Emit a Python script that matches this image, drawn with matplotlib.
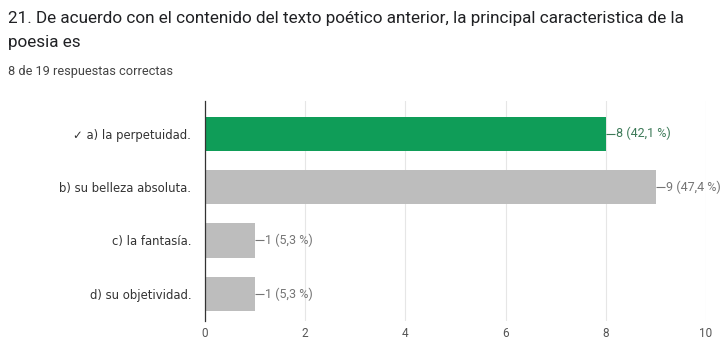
import matplotlib
matplotlib.use("Agg")
import matplotlib.pyplot as plt

plt.rcParams['font.family'] = ['Roboto', 'DejaVu Sans']

opciones = ['✓ a) la perpetuidad.', 'b) su belleza absoluta.', 'c) la fantasía.', 'd) su objetividad.']
respuestas = [8, 9, 1, 1]
porcentajes = ['42,1', '47,4', '5,3', '5,3']
correcta = [True, False, False, False]
ticks_x = [0, 2, 4, 6, 8, 10]

verde = '#0f9d58'
gris = '#bdbdbd'

fig = plt.figure(figsize=(7.27, 3.41), dpi=100)
ax = fig.add_axes([0.282, 0.06, 0.689, 0.645])

ypos = list(range(len(opciones)))
colores = [verde if c else gris for c in correcta]
ax.barh(ypos, respuestas, height=0.64, color=colores, zorder=2)

for y, v, p, c in zip(ypos, respuestas, porcentajes, correcta):
    col = '#3d7a58' if c else '#757575'
    ax.hlines(y, v, v + 0.18, color=col, lw=0.8, zorder=3)
    ax.text(v + 0.2, y, f'{v} ({p} %)', va='center', ha='left', fontsize=9, color=col)

ax.set_xlim(0, 10)
ax.set_ylim(len(opciones) - 0.5, -0.62)
ax.set_xticks(ticks_x)
ax.set_xticklabels([str(t) for t in ticks_x], fontsize=8.5, color='#555555')
ax.set_yticks(ypos)
ax.set_yticklabels(opciones, fontsize=8.4, color='#333333', family=['DejaVu Sans'])
ax.tick_params(length=0, pad=10)
ax.tick_params(axis='x', pad=5)
ax.grid(axis='x', color='#e6e6e6', lw=0.8, zorder=0)
for s in ['top', 'right', 'bottom']:
    ax.spines[s].set_visible(False)
ax.spines['left'].set_color('#333333')
ax.spines['left'].set_linewidth(0.9)
ax.spines['left'].set_zorder(4)

fig.text(0.011, 0.945, '21. De acuerdo con el contenido del texto poético anterior, la principal caracteristica de la',
         fontsize=12.3, color='#202124', va='center')
fig.text(0.011, 0.875, 'poesia es', fontsize=12.3, color='#202124', va='center')
fig.text(0.011, 0.79, '8 de 19 respuestas correctas', fontsize=9.2, color='#444444', va='center',
         family=['Liberation Sans Narrow', 'Roboto', 'DejaVu Sans'])

fig.savefig('out.png', dpi=100)
